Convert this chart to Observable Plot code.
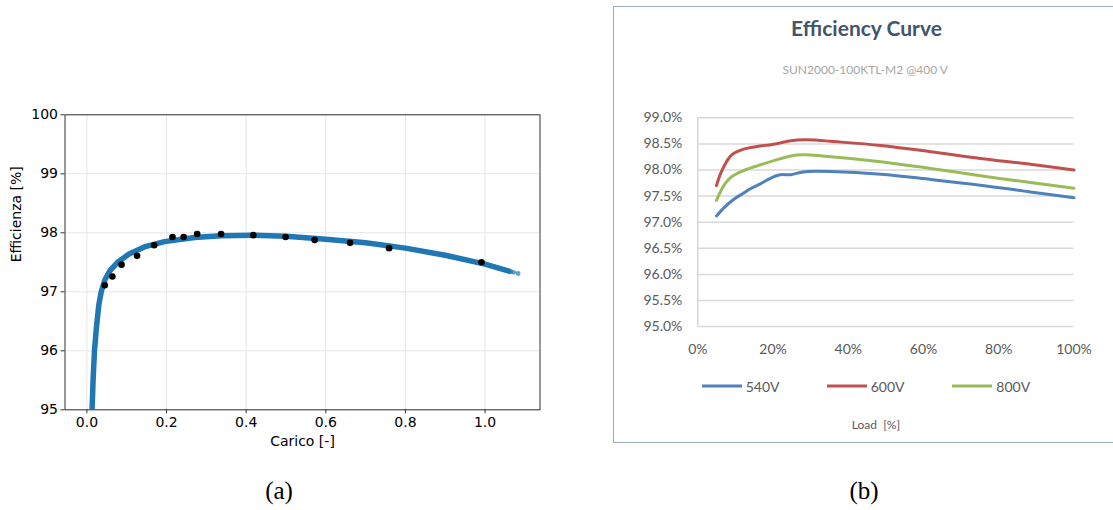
<!DOCTYPE html>
<html>
<head>
<meta charset="utf-8">
<script src="https://cdn.jsdelivr.net/npm/d3@7"></script>
<script src="https://cdn.jsdelivr.net/npm/@observablehq/plot@0.6"></script>
<style>
  html, body { margin: 0; padding: 0; background: #fff; overflow: hidden; }
  body { width: 1113px; height: 510px; position: relative; }
  #panelA, #panelB { position: absolute; top: 0; }
  #panelA { left: 0; }
  #panelB { left: 600px; }
  #box { position: absolute; left: 612.5px; top: 5.5px; width: 500.5px; height: 437px;
         border: 1.5px solid #9badc0; border-right: none; box-sizing: border-box; }
  .cap { position: absolute; font-family: "Liberation Serif", "DejaVu Serif", serif; font-size: 25px;
         transform: translate(-50%, -50%); color: #000; }
  .lg { position: absolute; top: 386px; transform: translateY(-50%); display: flex; align-items: center;
        font-family: Lato, "Open Sans", sans-serif; font-size: 14px; color: #595959; }
  .lg span.sw { display: inline-block; width: 40px; height: 3px; margin-right: 4px; }
  #loadLbl { position: absolute; left: 876px; top: 424px; transform: translate(-50%, -50%);
             font-family: Lato, "Open Sans", sans-serif; font-size: 12px; color: #595959; white-space: nowrap; }
  #panelA svg text { font-family: "DejaVu Sans", sans-serif; }
</style>
</head>
<body>
<div id="box"></div>
<div id="panelA"></div>
<div id="panelB"></div>
<div id="legend"></div>
<div id="loadLbl">Load&nbsp; [%]</div>
<div class="cap" style="left:279px; top:491px;">(a)</div>
<div class="cap" style="left:864px; top:491px;">(b)</div>
<script>
// ---------- Panel (a) data ----------
const curveLoad = [0.013, 0.0155, 0.019, 0.024, 0.030, 0.036, 0.045, 0.058, 0.077, 0.106, 0.144, 0.195, 0.27, 0.337, 0.42, 0.5, 0.6, 0.7, 0.8, 0.9, 1.0, 1.06];
const curveEff  = [95.0, 95.5, 96.0, 96.4, 96.78, 97.0, 97.2, 97.36, 97.5, 97.64, 97.76, 97.85, 97.92, 97.95, 97.96, 97.94, 97.89, 97.83, 97.74, 97.62, 97.47, 97.35];
const tailLoad = [1.065, 1.072, 1.083];
const tailEff  = [97.34, 97.33, 97.31];
const measLoad = [0.045, 0.064, 0.087, 0.126, 0.169, 0.215, 0.243, 0.277, 0.337, 0.418, 0.499, 0.572, 0.661, 0.759, 0.991];
const measEff  = [97.11, 97.26, 97.46, 97.61, 97.79, 97.93, 97.93, 97.98, 97.98, 97.96, 97.93, 97.88, 97.83, 97.74, 97.50];
const xTicksA = [0, 0.2, 0.4, 0.6, 0.8, 1.0];
const yTicksA = [95, 96, 97, 98, 99, 100];

// ---------- Panel (b) data ----------
const seriesNames  = ["540V", "600V", "800V"];
const seriesColors = ["#4f81bd", "#c0504d", "#9bbb59"];
const load540 = [4.97, 7, 9.6, 12, 14, 16.5, 18.5, 20.5, 22, 24.7, 26.5, 29.1, 35.3, 48.6, 61.9, 75.1, 88.4, 100];
const eff540  = [97.12, 97.28, 97.44, 97.55, 97.64, 97.73, 97.81, 97.88, 97.91, 97.91, 97.94, 97.97, 97.97, 97.92, 97.82, 97.71, 97.58, 97.47];
const load600 = [4.97, 6, 7.4, 8.5, 9.6, 12.2, 15.8, 19.8, 22, 24.7, 28.2, 31.8, 35.3, 48.6, 61.9, 75.1, 88.4, 100];
const eff600  = [97.70, 97.92, 98.13, 98.25, 98.32, 98.40, 98.45, 98.49, 98.52, 98.56, 98.58, 98.57, 98.55, 98.47, 98.35, 98.22, 98.11, 98.00];
const load800 = [4.97, 6.9, 8.2, 9.6, 12.2, 15.8, 20.2, 24.7, 28.2, 33, 48.6, 61.9, 75.1, 88.4, 100];
const eff800  = [97.42, 97.70, 97.82, 97.90, 97.99, 98.08, 98.18, 98.27, 98.29, 98.27, 98.16, 98.03, 97.89, 97.76, 97.65];
const xTicksB = [0, 20, 40, 60, 80, 100];
const yTicksB = [95.0, 95.5, 96.0, 96.5, 97.0, 97.5, 98.0, 98.5, 99.0];
const titleB = "Efficiency Curve";
const subtitleB = "SUN2000-100KTL-M2 @400 V";

// ---------- build tables ----------
const curve = curveLoad.map((x, i) => ({load: x, eff: curveEff[i]}));
const tail = tailLoad.map((x, i) => ({load: x, eff: tailEff[i]}));
const meas = measLoad.map((x, i) => ({load: x, eff: measEff[i]}));
const seriesB = [
  ...load540.map((x, i) => ({load: x, eff: eff540[i], s: "540V"})),
  ...load600.map((x, i) => ({load: x, eff: eff600[i], s: "600V"})),
  ...load800.map((x, i) => ({load: x, eff: eff800[i], s: "800V"}))
];

// ---------- Panel (a) ----------
const plotA = Plot.plot({
  width: 560, height: 460,
  marginLeft: 64.5, marginRight: 20.5, marginTop: 114.3, marginBottom: 50.7,
  style: {fontFamily: "DejaVu Sans, sans-serif", fontSize: "14px", color: "#000", background: "none", overflow: "visible"},
  x: {domain: [-0.055, 1.138]},
  y: {domain: [95, 100]},
  marks: [
    Plot.gridX(xTicksA, {stroke: "#e6e6e6", strokeOpacity: 1}),
    Plot.gridY(yTicksA, {stroke: "#e6e6e6", strokeOpacity: 1}),
    Plot.line(curve, {x: "load", y: "eff", stroke: "#1f77b4", strokeWidth: 5.5, clip: true}),
    Plot.dot(tail, {x: "load", y: "eff", r: 2.4, fill: "#1f77b4", fillOpacity: 0.7}),
    Plot.dot(meas, {x: "load", y: "eff", r: 3.3, fill: "#000"}),
    Plot.frame({stroke: "#333"}),
    Plot.axisX(xTicksA, {tickSize: 4, tickPadding: 3, tickFormat: d3.format(".1f"), label: null, stroke: "#333"}),
    Plot.axisY(yTicksA, {tickSize: 4, tickPadding: 3, tickFormat: d3.format("d"), label: null, stroke: "#333"}),
    Plot.text(["Carico [-]"], {text: d => d, frameAnchor: "bottom", dy: 32, lineAnchor: "middle"}),
    Plot.text(["Efficienza [%]"], {text: d => d, frameAnchor: "left", dx: -48, rotate: -90, lineAnchor: "middle"})
  ]
});
document.getElementById("panelA").append(plotA);

// ---------- Panel (b) ----------
const plotB = Plot.plot({
  width: 513, height: 460,
  marginLeft: 97.3, marginRight: 39.5, marginTop: 117.3, marginBottom: 133.9,
  style: {fontFamily: "Lato, 'Open Sans', sans-serif", fontSize: "14px", color: "#595959", background: "none", overflow: "visible"},
  x: {domain: [0, 100]},
  y: {domain: [95, 99]},
  color: {domain: seriesNames, range: seriesColors},
  marks: [
    Plot.gridY(yTicksB, {stroke: "#d9d9d9", strokeOpacity: 1, strokeWidth: 1.5}),
    Plot.ruleX([0], {stroke: "#d9d9d9", strokeWidth: 1.5}),
    Plot.line(seriesB, {x: "load", y: "eff", z: "s", stroke: "s", strokeWidth: 3, curve: "catmull-rom"}),
    Plot.axisY(yTicksB, {tickSize: 0, tickPadding: 15.5, tickFormat: d => d.toFixed(1) + "%", label: null}),
    Plot.axisX(xTicksB, {tickSize: 0, tickPadding: 17, tickFormat: d => d + "%", label: null}),
    Plot.text([titleB], {text: d => d, frameAnchor: "top", dx: -19.4, dy: -89, lineAnchor: "middle",
      fontSize: 21, fontWeight: "bold", fill: "#44546a"}),
    Plot.text([subtitleB], {text: d => d, frameAnchor: "top", dx: -20.7, dy: -48, lineAnchor: "middle",
      fontSize: 12, fill: "#a6a6a6"})
  ]
});
document.getElementById("panelB").append(plotB);

// ---------- legend for panel (b) ----------
const legendLeft = [701.7, 826.7, 952.3];
const legend = document.getElementById("legend");
seriesNames.forEach((name, i) => {
  const item = document.createElement("div");
  item.className = "lg";
  item.style.left = legendLeft[i] + "px";
  const sw = document.createElement("span");
  sw.className = "sw";
  sw.style.background = seriesColors[i];
  item.append(sw, document.createTextNode(name));
  legend.append(item);
});
</script>
</body>
</html>
